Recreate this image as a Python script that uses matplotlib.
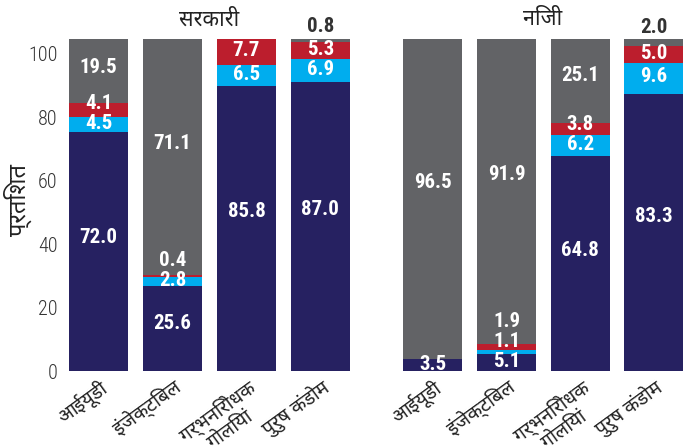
import matplotlib
matplotlib.use('Agg')
import matplotlib.pyplot as plt
import numpy as np

# fonts: devanagari for labels, condensed for the numbers
hindi = ['Noto Sans Devanagari', 'Hind', 'Mukta', 'FreeSans', 'DejaVu Sans']
numfont = ['Roboto Condensed', 'Oswald', 'DejaVu Sans']
tickfont = ['Roboto Condensed', 'DejaVu Sans']

categories = ['आईयूडी', 'इंजेक्टिबल', 'गर्भनिरोधक\nगोलियां', 'पुरुष कंडोम']
panels = ['सरकारी', 'निजी']

gov_navy = [72.0, 25.6, 85.8, 87.0]
gov_blue = [4.5, 2.8, 6.5, 6.9]
gov_red = [4.1, 0.4, 7.7, 5.3]
gov_gray = [19.5, 71.1, 0.0, 0.8]

pvt_navy = [3.5, 5.1, 64.8, 83.3]
pvt_blue = [0.0, 1.1, 6.2, 9.6]
pvt_red = [0.0, 1.9, 3.8, 5.0]
pvt_gray = [96.5, 91.9, 25.1, 2.0]

yticks = [0, 20, 40, 60, 80, 100]

colors = ['#262161', '#00adee', '#bc1e2d', '#626366']

W, H = 690, 448
fig = plt.figure(figsize=(W / 100, H / 100), dpi=100)


def px_axes(x0, x1, ytop, ybot):
    return fig.add_axes([x0 / W, 1 - ybot / H, (x1 - x0) / W, (ybot - ytop) / H])


ax_gov = px_axes(61.6, 356.6, 22.4, 371)
ax_pvt = px_axes(396, 690, 22.4, 371)


def draw_panel(ax, stacks, title, show_y):
    x = np.arange(len(categories))
    bottom = np.zeros(len(categories))
    label_y = [None] * len(categories)
    for vals, col in zip(stacks, colors):
        vals = np.asarray(vals)
        ax.bar(x, vals, bottom=bottom, width=0.8, color=col, linewidth=0)
        for i, v in enumerate(vals):
            if v <= 0:
                continue
            top = bottom[i] + v
            if col == colors[3] and v < 3:
                # tiny top segment: label sits above the bar
                ax.text(x[i], top + 0.8, '%.1f' % v, ha='center', va='bottom',
                        color='#333333', fontsize=15, family=numfont, fontweight='bold')
                continue
            # labels sit a bit above the middle, small ones get pushed up
            y = bottom[i] + v / 2 + min(5, 0.06 * v)
            if label_y[i] is not None:
                y = max(y, label_y[i] + 6)
            label_y[i] = y
            ax.text(x[i], y, '%.1f' % v, ha='center', va='center',
                    color='white', fontsize=15, family=numfont, fontweight='bold')
        bottom += vals

    ax.set_xlim(-0.5, 3.49)
    ax.set_ylim(0, 105)
    for s in ax.spines.values():
        s.set_visible(False)
    ax.tick_params(length=0)
    ax.set_xticks(x)
    ax.set_xticklabels(categories, rotation=36, ha='right', rotation_mode='anchor',
                       family=hindi, fontsize=14, color='#222222', linespacing=1.15,
                       multialignment='center')
    ax.tick_params(axis='x', pad=4)
    # the tick labels in the original sit a little low against the bars
    ax.set_yticks([t * 0.955 for t in yticks])
    if show_y:
        ax.set_yticklabels([str(t) for t in yticks], family=tickfont, fontsize=14.5,
                           fontweight='light', color='#333333')
        ax.tick_params(axis='y', pad=3)
    else:
        ax.set_yticklabels([])
    ax.text(0.5, 1.007, title, transform=ax.transAxes, ha='center', va='center',
            family=hindi, fontsize=15.5, color='#222222')


draw_panel(ax_gov, [gov_navy, gov_blue, gov_red, gov_gray], panels[0], True)
draw_panel(ax_pvt, [pvt_navy, pvt_blue, pvt_red, pvt_gray], panels[1], False)

fig.text(18 / W, 1 - 200 / H, 'प्रतिशत', rotation=90, ha='center', va='center',
         family=hindi, fontsize=17, color='#222222')

fig.savefig('out.png', dpi=100)
